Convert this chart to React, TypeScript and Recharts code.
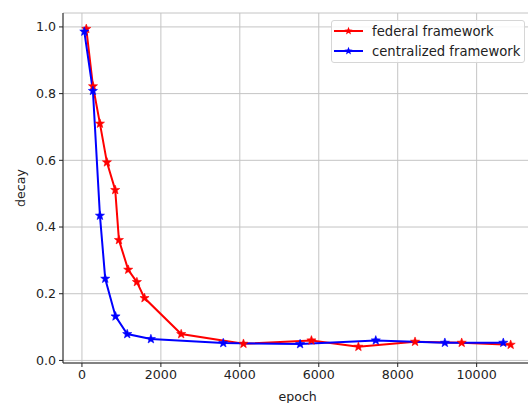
import React from "react";
import {
  LineChart,
  Line,
  XAxis,
  YAxis,
  CartesianGrid,
} from "recharts";

const federalEpoch = [110, 280, 456, 633, 843, 937, 1172, 1392, 1585, 2514, 4092, 5814, 7004, 8439, 9621, 10862];
const federalDecay = [0.994, 0.822, 0.71, 0.594, 0.511, 0.361, 0.272, 0.235, 0.187, 0.079, 0.05, 0.06, 0.041, 0.056, 0.053, 0.047];

const centralEpoch = [60, 278, 456, 590, 851, 1147, 1747, 3580, 5527, 7444, 9195, 10675];
const centralDecay = [0.986, 0.808, 0.434, 0.245, 0.132, 0.079, 0.064, 0.052, 0.049, 0.06, 0.053, 0.053];

const xTicks = [0, 2000, 4000, 6000, 8000, 10000];
const yTicks = [0, 0.2, 0.4, 0.6, 0.8, 1.0];

const federalData = federalEpoch.map((epoch, i) => ({ epoch, decay: federalDecay[i] }));
const centralData = centralEpoch.map((epoch, i) => ({ epoch, decay: centralDecay[i] }));

const FONT = "'DejaVu Sans', sans-serif";
const X_DOMAIN: [number, number] = [-480, 11410];
const Y_DOMAIN: [number, number] = [-0.0077, 1.0417];

function starPoints(cx: number, cy: number, ro: number, ri: number) {
  const pts: string[] = [];
  for (let k = 0; k < 10; k++) {
    const r = k % 2 === 0 ? ro : ri;
    const a = -Math.PI / 2 + (k * Math.PI) / 5;
    pts.push(`${cx + r * Math.cos(a)},${cy + r * Math.sin(a)}`);
  }
  return pts.join(" ");
}

function starDot(color: string) {
  return (props: any) => {
    const { cx, cy, index } = props;
    if (cx == null || cy == null) return <g key={index} />;
    return (
      <polygon
        key={index}
        points={starPoints(cx, cy, 4.8, 2.0)}
        fill={color}
        stroke={color}
        strokeWidth={0.6}
      />
    );
  };
}

const legendItems = [
  { name: "federal framework", color: "#ff0000" },
  { name: "centralized framework", color: "#0000ff" },
];

function LegendBox() {
  return (
    <div
      style={{
        position: "absolute",
        left: 331,
        top: 20,
        width: 194,
        height: 43,
        border: "1px solid #d6d6d6",
        borderRadius: 3,
        background: "rgba(255,255,255,0.85)",
        fontFamily: FONT,
        fontSize: 13.2,
        color: "#222",
        boxSizing: "border-box",
      }}
    >
      {legendItems.map((item, i) => (
        <div
          key={item.name}
          style={{ position: "absolute", left: 1, top: 1 + i * 20, height: 18, display: "flex", alignItems: "center" }}
        >
          <svg width={32} height={18}>
            <line x1={1} y1={9} x2={30} y2={9} stroke={item.color} strokeWidth={2} />
            <polygon points={starPoints(15.5, 9, 4.2, 1.8)} fill={item.color} />
          </svg>
          <span style={{ marginLeft: 7, whiteSpace: "nowrap" }}>{item.name}</span>
        </div>
      ))}
    </div>
  );
}

export default function App() {
  const tickStyle = { fill: "#222", fontSize: 12.6, fontFamily: FONT };
  return (
    <div
      style={{
        position: "absolute",
        left: 0,
        top: 0,
        width: 528,
        height: 403,
        overflow: "hidden",
        background: "#fff",
      }}
    >
      <LineChart
        width={540}
        height={403}
        margin={{ top: 13, right: 7.7, bottom: 0, left: 0 }}
      >
        <CartesianGrid stroke="#c4c4c4" strokeWidth={1} />
        <XAxis
          xAxisId="top"
          orientation="top"
          type="number"
          domain={X_DOMAIN}
          height={0}
          tick={false}
          tickLine={false}
          axisLine={{ stroke: "#222", strokeWidth: 1 }}
        />
        <XAxis
          dataKey="epoch"
          type="number"
          domain={X_DOMAIN}
          ticks={xTicks}
          allowDataOverflow
          height={40}
          tickSize={4}
          tickMargin={3}
          tick={tickStyle}
          axisLine={{ stroke: "#222", strokeWidth: 1 }}
          tickLine={{ stroke: "#222" }}
          label={{ value: "epoch", position: "insideBottom", offset: 2, style: { fill: "#222", fontSize: 12.6, fontFamily: FONT } }}
        />
        <YAxis
          type="number"
          domain={Y_DOMAIN}
          ticks={yTicks}
          allowDataOverflow
          width={63}
          tickSize={4}
          tickMargin={3}
          tick={tickStyle}
          tickFormatter={(v: number) => v.toFixed(1)}
          axisLine={{ stroke: "#222", strokeWidth: 1 }}
          tickLine={{ stroke: "#222" }}
          label={{
            content: () => (
              <text
                x={20}
                y={188}
                transform="rotate(-90, 20, 188)"
                textAnchor="middle"
                dominantBaseline="central"
                fill="#222"
                fontSize={12.6}
                fontFamily={FONT}
              >
                decay
              </text>
            ),
          }}
        />
        <Line
          data={federalData}
          dataKey="decay"
          name="federal framework"
          type="linear"
          stroke="#ff0000"
          strokeWidth={2}
          dot={starDot("#ff0000")}
          activeDot={false}
          isAnimationActive={false}
        />
        <Line
          data={centralData}
          dataKey="decay"
          name="centralized framework"
          type="linear"
          stroke="#0000ff"
          strokeWidth={2}
          dot={starDot("#0000ff")}
          activeDot={false}
          isAnimationActive={false}
        />
      </LineChart>
      <LegendBox />
    </div>
  );
}
